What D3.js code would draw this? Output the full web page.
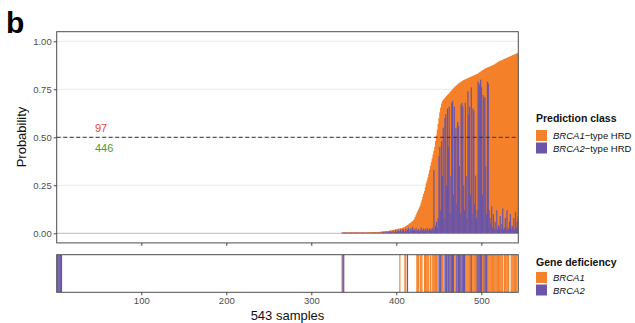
<!DOCTYPE html>
<html>
<head>
<meta charset="utf-8">
<script src="https://cdn.jsdelivr.net/npm/d3@7"></script>
<style>
  body { margin: 0; background: #fff; }
  svg { display: block; }
  text { font-family: "Liberation Sans", Arial, Helvetica, sans-serif; }
</style>
</head>
<body>
<div id="chart"></div>
<script>
// HRD probability per sample (BRCA1-type + BRCA2-type), samples sorted ascending
const hrdProb = [
  0,0,0,0,0,0,0,0,0,0,0,0,0,0,0,0,0,0,0,0,             // 1-20
  0,0,0,0,0,0,0,0,0,0,0,0,0,0,0,0,0,0,0,0,             // 21-40
  0,0,0,0,0,0,0,0,0,0,0,0,0,0,0,0,0,0,0,0,             // 41-60
  0,0,0,0,0,0,0,0,0,0,0,0,0,0,0,0,0,0,0,0,             // 61-80
  0,0,0,0,0,0,0,0,0,0,0,0,0,0,0,0,0,0,0,0,             // 81-100
  0,0,0,0,0,0,0,0,0,0,0,0,0,0,0,0,0,0,0,0,             // 101-120
  0,0,0,0,0,0,0,0,0,0,0,0,0,0,0,0,0,0,0,0,             // 121-140
  0,0,0,0,0,0,0,0,0,0,0,0,0,0,0,0,0,0,0,0,             // 141-160
  0,0,0,0,0,0,0,0,0,0,0,0,0,0,0,0,0,0,0,0,             // 161-180
  0,0,0,0,0,0,0,0,0,0,0,0,0,0,0,0,0,0,0,0,             // 181-200
  0,0,0,0,0,0,0,0,0,0,0,0,0,0,0,0,0,0,0,0,             // 201-220
  0,0,0,0,0,0,0,0,0,0,0,0,0,0,0,0,0,0,0,0,             // 221-240
  0,0,0,0,0,0,0,0,0,0,0,0,0,0,0,0,0,0,0,0,             // 241-260
  0,0,0,0,0,0,0,0,0,0,0,0,0,0,0,0,0,0,0,0,             // 261-280
  0,0,0,0,0,0,0,0,0,0,0,0,0,0,0,0,0,0,0,0,             // 281-300
  0,0,0,0,0,0,0,0,0,0,0,0,0,0,0,0,0,0,0,0,             // 301-320
  0,0,0,0,0,0,0,0,0,0,0,0,0,0,0,0.004,0.004,0.004,0.004,0.004,   // 321-340
  0.004,0.004,0.004,0.004,0.004,0.004,0.004,0.004,0.004,0.004,
  0.004,0.004,0.004,0.004,0.004,0.004,0.004,0.004,0.004,0.004,   // 341-360
  0.004,0.004,0.004,0.004,0.004,0.005,0.005,0.005,0.005,0.005,
  0.006,0.006,0.006,0.006,0.006,0.007,0.007,0.007,0.007,0.007,   // 361-380
  0.008,0.008,0.009,0.009,0.010,0.010,0.011,0.011,0.012,0.012,
  0.013,0.013,0.014,0.015,0.016,0.017,0.018,0.019,0.020,0.021,   // 381-400
  0.022,0.023,0.024,0.025,0.026,0.027,0.028,0.030,0.032,0.034,
  0.037,0.040,0.043,0.046,0.050,0.053,0.056,0.060,0.064,0.068,   // 401-420
  0.075,0.085,0.095,0.105,0.115,0.125,0.135,0.145,0.160,0.175,
  0.190,0.205,0.220,0.240,0.260,0.275,0.290,0.310,0.330,0.350,   // 421-440
  0.370,0.390,0.410,0.430,0.450,0.480,0.510,0.540,0.570,0.600,
  0.630,0.655,0.675,0.688,0.695,0.700,0.705,0.710,0.715,0.720,   // 441-460
  0.725,0.730,0.735,0.740,0.745,0.750,0.755,0.760,0.764,0.768,
  0.772,0.776,0.780,0.783,0.786,0.789,0.792,0.795,0.798,0.800,   // 461-480
  0.802,0.804,0.806,0.808,0.810,0.812,0.814,0.816,0.818,0.820,
  0.822,0.824,0.826,0.828,0.830,0.833,0.836,0.839,0.842,0.845,   // 481-500
  0.848,0.851,0.854,0.857,0.859,0.861,0.863,0.865,0.867,0.869,
  0.871,0.873,0.875,0.877,0.879,0.882,0.885,0.888,0.891,0.894,   // 501-520
  0.896,0.898,0.900,0.902,0.904,0.906,0.908,0.910,0.912,0.914,
  0.916,0.918,0.920,0.922,0.924,0.926,0.928,0.930,0.932,0.934,   // 521-540
  0.936,0.938,0.940                                               // 541-543
];

// BRCA2-type HRD probability per sample (same order)
const brca2Prob = [
  0,0,0,0,0,0,0,0,0,0,0,0,0,0,0,0,0,0,0,0,             // 1-20
  0,0,0,0,0,0,0,0,0,0,0,0,0,0,0,0,0,0,0,0,             // 21-40
  0,0,0,0,0,0,0,0,0,0,0,0,0,0,0,0,0,0,0,0,             // 41-60
  0,0,0,0,0,0,0,0,0,0,0,0,0,0,0,0,0,0,0,0,             // 61-80
  0,0,0,0,0,0,0,0,0,0,0,0,0,0,0,0,0,0,0,0,             // 81-100
  0,0,0,0,0,0,0,0,0,0,0,0,0,0,0,0,0,0,0,0,             // 101-120
  0,0,0,0,0,0,0,0,0,0,0,0,0,0,0,0,0,0,0,0,             // 121-140
  0,0,0,0,0,0,0,0,0,0,0,0,0,0,0,0,0,0,0,0,             // 141-160
  0,0,0,0,0,0,0,0,0,0,0,0,0,0,0,0,0,0,0,0,             // 161-180
  0,0,0,0,0,0,0,0,0,0,0,0,0,0,0,0,0,0,0,0,             // 181-200
  0,0,0,0,0,0,0,0,0,0,0,0,0,0,0,0,0,0,0,0,             // 201-220
  0,0,0,0,0,0,0,0,0,0,0,0,0,0,0,0,0,0,0,0,             // 221-240
  0,0,0,0,0,0,0,0,0,0,0,0,0,0,0,0,0,0,0,0,             // 241-260
  0,0,0,0,0,0,0,0,0,0,0,0,0,0,0,0,0,0,0,0,             // 261-280
  0,0,0,0,0,0,0,0,0,0,0,0,0,0,0,0,0,0,0,0,             // 281-300
  0,0,0,0,0,0,0,0,0,0,0,0,0,0,0,0,0,0,0,0,             // 301-320
  0,0,0,0,0,0,0,0,0,0,0,0,0,0,0,0.003,0.003,0.003,0.003,0.003,   // 321-340
  0.003,0.003,0.003,0.003,0.003,0.003,0.003,0.003,0.003,0.003,
  0.003,0.003,0.003,0.003,0.003,0.003,0.003,0.003,0.003,0.003,   // 341-360
  0.003,0.003,0.003,0.003,0.003,0.003,0.002,0.004,0.003,0.002,
  0.004,0.003,0.002,0.003,0.004,0.002,0.003,0.004,0.002,0.003,   // 361-380
  0.004,0.002,0.006,0.003,0.008,0.004,0.002,0.009,0.005,0.003,
  0.010,0.004,0.012,0.006,0.003,0.014,0.008,0.004,0.016,0.006,   // 381-400
  0.010,0.018,0.004,0.012,0.020,0.008,0.015,0.022,0.006,0.014,
  0.025,0.010,0.018,0.030,0.008,0.020,0.026,0.012,0.034,0.015,   // 401-420
  0.020,0.012,0.028,0.010,0.016,0.022,0.008,0.018,0.030,0.012,
  0.020,0.026,0.010,0.022,0.014,0.028,0.012,0.020,0.025,0.015,   // 421-440
  0.020,0.030,0.018,0.330,0.025,0.040,0.060,0.030,0.080,0.400,
  0.450,0.120,0.480,0.300,0.550,0.080,0.600,0.620,0.250,0.650,   // 441-460
  0.450,0.660,0.100,0.300,0.680,0.690,0.200,0.660,0.500,0.550,
  0.150,0.580,0.560,0.350,0.100,0.670,0.680,0.660,0.250,0.120,   // 461-480
  0.680,0.300,0.080,0.740,0.620,0.660,0.200,0.760,0.100,0.650,
  0.640,0.150,0.300,0.080,0.120,0.790,0.780,0.770,0.800,0.760,   // 481-500
  0.200,0.720,0.700,0.710,0.350,0.100,0.790,0.780,0.120,0.080,
  0.050,0.140,0.030,0.100,0.020,0.060,0.030,0.120,0.020,0.040,   // 501-520
  0.030,0.090,0.020,0.050,0.130,0.020,0.030,0.080,0.020,0.120,
  0.030,0.020,0.060,0.100,0.020,0.040,0.030,0.080,0.020,0.110,   // 521-540
  0.030,0.060,0.090                                               // 541-543
];

// Samples with a known gene deficiency
const brca1Deficient = [336,404,410,411,424,425,426,428,429,430,433,434,435,436,437,438,
  440,442,443,444,445,446,447,448,453,454,455,460,463,468,472,476,481,482,483,484,485,
  486,487,489,490,491,492,493,494,501,502,504,507,508,509,510,511,512,513,514,515,516,
  517,518,519,520,521,522,523,524,525,527,528,529,530,531,532,535,536,537,538,539,540,541,543];
const brca2Deficient = [1,2,3,4,5,6,337,338,413,450,451,452,457,458,459,461,462,464,465,
  466,467,470,471,473,474,475,477,478,479,480,488,495,496,497,498,499,500,503,505,506];

const xTicks = [100, 200, 300, 400, 500];
const yTicks = [0, 0.25, 0.5, 0.75, 1];
const threshold = 0.5;

const predictionClasses = ["BRCA1", "BRCA2"];
const geneClasses = ["BRCA1", "BRCA2"];

// ---- drawing ----
const W = 635, H = 323;
const ORANGE = "#F4812B", PURPLE = "#6A55A8";
const svg = d3.select("#chart").append("svg").attr("width", W).attr("height", H);
svg.append("rect").attr("width", W).attr("height", H).attr("fill", "#fff");

const nSamples = hrdProb.length;
const samples = d3.range(1, nSamples + 1);

const x = d3.scaleLinear().domain([0.5, nSamples + 0.5]).range([56.7, 518.3]);
const y = d3.scaleLinear().domain([-0.05, 1.05]).range([242.9, 31.7]);
const bw = x(1.5) - x(0.5);
const [px0, px1] = x.range();
const [py1, py0] = y.range(); // bottom, top

const sy0 = 254.7, sy1 = 292.3;

// clip regions so widened bars stay inside the panels
const defs = svg.append("defs");
defs.append("clipPath").attr("id", "clip-main").append("rect")
  .attr("x", px0).attr("y", py0).attr("width", px1 - px0).attr("height", py1 - py0);
defs.append("clipPath").attr("id", "clip-strip").append("rect")
  .attr("x", px0).attr("y", sy0).attr("width", px1 - px0).attr("height", sy1 - sy0);

// panel label
svg.append("text").attr("x", 6).attr("y", 33)
  .attr("font-size", 30).attr("font-weight", "bold").text("b");

// main panel gridlines
svg.append("g").selectAll("line").data(yTicks).join("line")
  .attr("x1", px0).attr("x2", px1)
  .attr("y1", d => y(d)).attr("y2", d => y(d))
  .attr("stroke", d => d === 0 ? "#adb2bb" : "#e2e8e8")
  .attr("stroke-width", 0.9);

// stacked probability bars: total (orange region on top), BRCA2 part from zero
const bars = svg.append("g").attr("clip-path", "url(#clip-main)");
bars.append("g").selectAll("rect").data(samples.filter(s => hrdProb[s - 1] > 0)).join("rect")
  .attr("x", s => x(s - 0.5)).attr("width", bw + 1)
  .attr("y", s => y(hrdProb[s - 1]))
  .attr("height", s => y(0) - y(hrdProb[s - 1]))
  .attr("fill", ORANGE);
bars.append("g").selectAll("rect").data(samples.filter(s => brca2Prob[s - 1] > 0)).join("rect")
  .attr("x", s => x(s - 0.5)).attr("width", bw + 0.35)
  .attr("y", s => y(brca2Prob[s - 1]))
  .attr("height", s => y(0) - y(brca2Prob[s - 1]))
  .attr("fill", PURPLE);

// threshold line
svg.append("line")
  .attr("x1", px0).attr("x2", px1)
  .attr("y1", y(threshold)).attr("y2", y(threshold))
  .attr("stroke", "#333").attr("stroke-width", 1)
  .attr("stroke-dasharray", "4,2.5");

// counts above / below the threshold
const nAbove = hrdProb.filter(p => p > threshold).length;
const nBelow = nSamples - nAbove;
svg.append("text").attr("x", 95).attr("y", y(threshold) - 5.5)
  .attr("font-size", 11).attr("fill", "#E5443B").text(nAbove);
svg.append("text").attr("x", 95).attr("y", y(threshold) + 14.5)
  .attr("font-size", 11).attr("fill", "#519A37").text(nBelow);

// panel border
svg.append("rect").attr("x", px0).attr("y", py0)
  .attr("width", px1 - px0).attr("height", py1 - py0)
  .attr("fill", "none").attr("stroke", "#4d4d4d").attr("stroke-width", 1);

function styleAxis(g) {
  g.select(".domain").remove();
  g.selectAll(".tick line").attr("stroke", "#333").attr("stroke-width", 0.9);
  g.selectAll(".tick text").attr("fill", "#4d4d4d")
    .attr("font-size", 9.5).attr("font-family", "Liberation Sans, Arial, sans-serif");
}

// y axis
svg.append("g").attr("transform", `translate(${px0},0)`)
  .call(d3.axisLeft(y).tickValues(yTicks).tickFormat(d3.format(".2f")).tickSize(3).tickPadding(2))
  .call(styleAxis);

// x ticks under main panel (no labels)
svg.append("g").attr("transform", `translate(0,${py1})`)
  .call(d3.axisBottom(x).tickValues(xTicks).tickFormat("").tickSize(3))
  .call(styleAxis);

// y axis title
svg.append("text").attr("transform", "translate(26,137) rotate(-90)")
  .attr("text-anchor", "middle").attr("font-size", 13).attr("fill", "#111")
  .text("Probability");

// gene deficiency strip
const strip = svg.append("g").attr("clip-path", "url(#clip-strip)");
strip.selectAll("rect.b1").data(brca1Deficient).join("rect").attr("class", "b1")
  .attr("x", s => x(s - 0.5)).attr("width", bw + 0.3)
  .attr("y", sy0).attr("height", sy1 - sy0).attr("fill", ORANGE);
strip.selectAll("rect.b2").data(brca2Deficient).join("rect").attr("class", "b2")
  .attr("x", s => x(s - 0.5)).attr("width", bw + 0.3)
  .attr("y", sy0).attr("height", sy1 - sy0).attr("fill", PURPLE);
svg.append("rect").attr("x", px0).attr("y", sy0)
  .attr("width", px1 - px0).attr("height", sy1 - sy0)
  .attr("fill", "none").attr("stroke", "#4d4d4d").attr("stroke-width", 1);

svg.append("g").attr("transform", `translate(0,${sy1})`)
  .call(d3.axisBottom(x).tickValues(xTicks).tickFormat(d3.format("d")).tickSize(3).tickPadding(2))
  .call(styleAxis);

svg.append("text").attr("x", (px0 + px1) / 2).attr("y", 319.5)
  .attr("text-anchor", "middle").attr("font-size", 13).attr("fill", "#111")
  .text(`${nSamples} samples`);

// legends
function legend(title, top, rowStart, entries, suffix) {
  const g = svg.append("g").attr("transform", `translate(536,${top})`);
  g.append("text").attr("x", 0).attr("y", 0).attr("font-size", 10.5)
    .attr("font-weight", "bold").attr("fill", "#111").text(title);
  const rows = g.selectAll("g.row").data(entries).join("g").attr("class", "row")
    .attr("transform", (d, i) => `translate(0,${rowStart + i * 12.5})`);
  rows.append("rect").attr("width", 11).attr("height", 11)
    .attr("fill", (d, i) => i === 0 ? ORANGE : PURPLE);
  const t = rows.append("text").attr("x", 17).attr("y", 9).attr("font-size", 9.5).attr("fill", "#111");
  t.append("tspan").attr("font-style", "italic").text(d => d);
  if (suffix) t.append("tspan").text(suffix);
}
legend("Prediction class", 122, 8, predictionClasses, "\u2212type HRD");
legend("Gene deficiency", 266, 6, geneClasses, "");
</script>
</body>
</html>
